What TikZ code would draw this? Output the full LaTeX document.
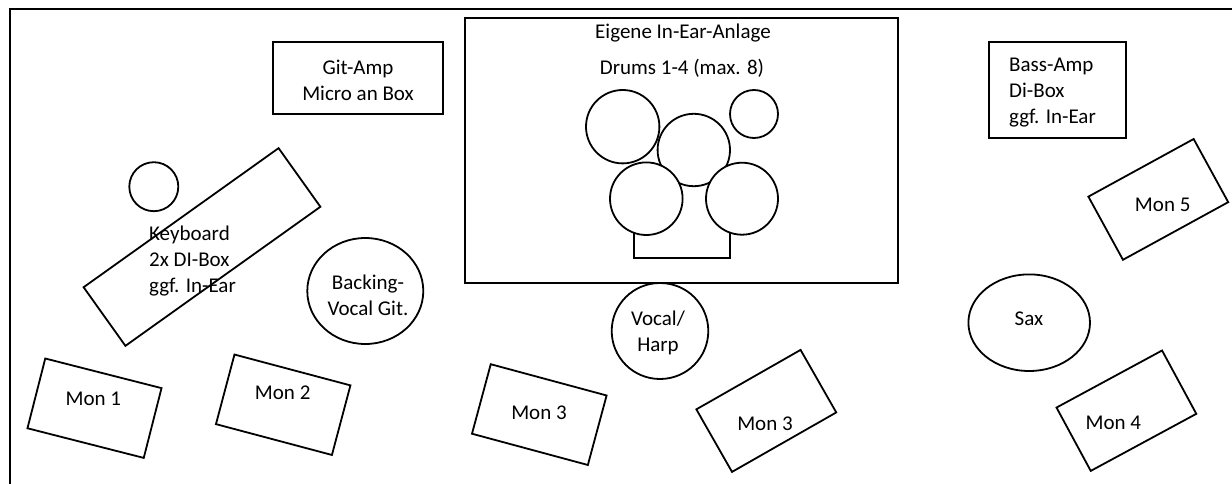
\documentclass[tikz,border=0pt]{standalone}
\usepackage{fontspec}
\setmainfont{Carlito}
\usetikzlibrary{shapes.geometric}
\begin{document}
\begin{tikzpicture}[x=1pt,y=-1pt,
  shp/.style={draw=black, line width=1.8pt, inner sep=0pt, outer sep=0pt},
  box/.style={shp, rectangle},
  mon/.style={shp, rectangle, minimum width=120pt, minimum height=72pt},
  drum/.style={shp, circle, fill=white},
  oval/.style={shp, ellipse},
  lbl/.style={inner sep=0pt, font=\fontsize{21}{26}\selectfont, align=center},
  lbll/.style={inner sep=0pt, font=\fontsize{21}{26}\selectfont, align=left, anchor=west}]
\useasboundingbox (0,0) rectangle (1232,484);
% stage frame
\coordinate (fa) at (10,484);
\coordinate (fb) at (10,9);
\coordinate (fc) at (1232,9);
\draw[line width=2.2pt] (fa) -- (fb) -- (fc);

% amps
\node[box, minimum width=170pt, minimum height=72pt] (git) at (358,78) {};
\node[lbl] (gitt) at (358,80) {Git-Amp\\Micro an Box};
\node[box, minimum width=136.7pt, minimum height=96.6pt] (bass) at (1057.3,90) {};
\node[lbll] (basst) at (1009,92.8) {Bass-Amp\\Di-Box\\ggf. In-Ear};

% drum riser
\node[box, minimum width=433pt, minimum height=265pt] (riser) at (681.5,150.5) {};
\node[lbl] (eig) at (683,33) {Eigene In-Ear-Anlage};
\node[lbl] (drt) at (682,68) {Drums 1-4 (max. 8)};
\coordinate (s1) at (634,205);
\coordinate (s2) at (634,258);
\coordinate (s3) at (730,258);
\coordinate (s4) at (730,205);
\draw[line width=1.8pt] (s1) -- (s2) -- (s3) -- (s4);
\node[drum, minimum size=73.4pt] (d1) at (622.7,126.7) {};
\node[drum, minimum size=48pt] (d2) at (754,114) {};
\node[drum, minimum size=72.4pt] (d3) at (693.8,150) {};
\node[drum, minimum size=72.6pt] (d4) at (646.3,198.7) {};
\node[drum, minimum size=72pt] (d5) at (742,198.7) {};

% keyboard
\node[shp, rectangle, minimum width=239.5pt, minimum height=72pt, rotate=35.5] (key) at (202,247) {};
\node[drum, minimum size=49pt] (kc) at (153.8,186.7) {};
\node[lbll] (keyt) at (149,261) {Keyboard\\2x DI-Box\\ggf. In-Ear};

% musicians
\node[oval, minimum width=116pt, minimum height=106pt] (bv) at (365.3,291) {};
\node[lbl] (bvt) at (368,295) {Backing-\\Vocal Git.};
\node[oval, minimum width=96.6pt, minimum height=96pt] (voc) at (660,331) {};
\node[lbl] (voct) at (658,333) {Vocal/\\Harp};
\node[oval, minimum width=121.6pt, minimum height=96.6pt] (sax) at (1029.2,322.7) {};
\node[lbl] (saxt) at (1029,318.3) {Sax};

% monitors
\node[mon, rotate=-14.3] (m1) at (94.5,408.2) {};
\node[lbl] (m1t) at (93.3,399.3) {Mon 1};
\node[mon, rotate=-14.9] (m2) at (283.2,404.75) {};
\node[lbl] (m2t) at (282.7,392.3) {Mon 2};
\node[mon, rotate=-15.1] (m3a) at (539.3,414.6) {};
\node[lbl] (m3at) at (539,412.7) {Mon 3};
\node[mon, rotate=29.7] (m3b) at (766.3,410.9) {};
\node[lbl] (m3bt) at (765,424) {Mon 3};
\node[mon, rotate=28.4] (m4) at (1126.4,410.7) {};
\node[lbl] (m4t) at (1113.3,422.7) {Mon 4};
\node[mon, rotate=28.7] (m5) at (1158.3,199.4) {};
\node[lbl] (m5t) at (1162.7,205) {Mon 5};
\end{tikzpicture}
\end{document}
